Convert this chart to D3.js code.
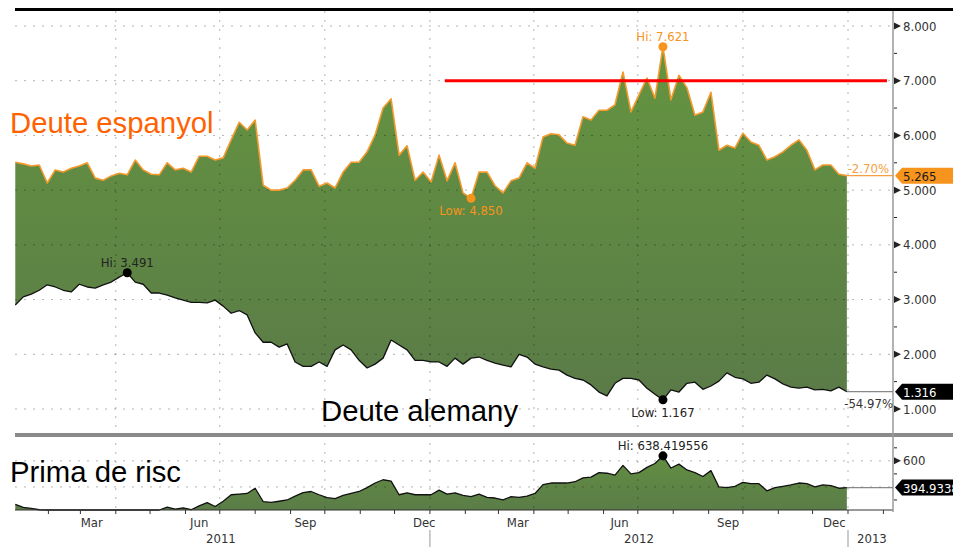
<!DOCTYPE html>
<html><head><meta charset="utf-8">
<script src="https://cdn.jsdelivr.net/npm/d3@7"></script>
<style>body{margin:0;background:#fff}svg{display:block}</style>
</head><body><svg id="c" width="953" height="547"></svg>
<script>
const dates=["2011-01-03","2011-01-10","2011-01-17","2011-01-24","2011-01-31","2011-02-07","2011-02-14","2011-02-21","2011-02-28","2011-03-07","2011-03-14","2011-03-21","2011-03-28","2011-04-04","2011-04-11","2011-04-18","2011-04-25","2011-05-02","2011-05-09","2011-05-16","2011-05-23","2011-05-30","2011-06-06","2011-06-13","2011-06-20","2011-06-27","2011-07-04","2011-07-11","2011-07-18","2011-07-25","2011-08-01","2011-08-08","2011-08-15","2011-08-22","2011-08-29","2011-09-05","2011-09-12","2011-09-19","2011-09-26","2011-10-03","2011-10-10","2011-10-17","2011-10-24","2011-10-31","2011-11-07","2011-11-14","2011-11-21","2011-11-28","2011-12-05","2011-12-12","2011-12-19","2011-12-26","2012-01-02","2012-01-09","2012-01-16","2012-01-23","2012-01-30","2012-02-06","2012-02-13","2012-02-20","2012-02-27","2012-03-05","2012-03-12","2012-03-19","2012-03-26","2012-04-02","2012-04-09","2012-04-16","2012-04-23","2012-04-30","2012-05-07","2012-05-14","2012-05-21","2012-05-28","2012-06-04","2012-06-11","2012-06-18","2012-06-25","2012-07-02","2012-07-09","2012-07-16","2012-07-23","2012-07-30","2012-08-06","2012-08-13","2012-08-20","2012-08-27","2012-09-03","2012-09-10","2012-09-17","2012-09-24","2012-10-01","2012-10-08","2012-10-15","2012-10-22","2012-10-29","2012-11-05","2012-11-12","2012-11-19","2012-11-26","2012-12-03","2012-12-10","2012-12-17","2012-12-24","2012-12-31"];
const spain=[5.51,5.48,5.44,5.46,5.13,5.37,5.33,5.40,5.44,5.50,5.22,5.18,5.26,5.31,5.28,5.55,5.37,5.29,5.28,5.50,5.37,5.40,5.33,5.62,5.62,5.55,5.59,5.92,6.24,6.10,6.28,5.09,5.00,5.00,5.04,5.18,5.37,5.37,5.07,5.13,5.04,5.33,5.51,5.51,5.70,6.01,6.50,6.67,5.64,5.81,5.18,5.33,5.15,5.64,5.17,5.50,4.95,4.85,5.33,5.33,5.08,4.95,5.17,5.22,5.50,5.40,5.97,6.03,6.01,5.86,5.82,6.34,6.28,6.46,6.46,6.56,7.16,6.43,6.74,7.05,6.68,7.621,6.65,7.10,6.87,6.37,6.43,6.79,5.73,5.82,5.77,6.04,5.88,5.82,5.55,5.61,5.70,5.82,5.92,5.73,5.37,5.46,5.46,5.29,5.265];
const germany=[2.90,3.05,3.10,3.17,3.27,3.23,3.17,3.14,3.28,3.23,3.21,3.27,3.32,3.41,3.491,3.32,3.28,3.12,3.12,3.08,3.03,2.99,2.95,2.95,2.94,2.99,2.88,2.75,2.80,2.72,2.39,2.22,2.22,2.13,2.19,1.86,1.78,1.78,1.86,1.78,2.08,2.17,2.08,1.89,1.75,1.82,1.93,2.26,2.17,2.08,1.89,1.89,1.86,1.86,1.78,1.93,1.82,1.93,1.95,1.89,1.84,1.80,1.77,2.00,1.95,1.82,1.77,1.73,1.71,1.62,1.56,1.53,1.44,1.31,1.24,1.47,1.56,1.56,1.53,1.38,1.27,1.167,1.35,1.31,1.47,1.49,1.36,1.42,1.51,1.66,1.58,1.55,1.47,1.49,1.62,1.55,1.46,1.40,1.38,1.40,1.35,1.36,1.33,1.40,1.316];
const spread=[266,243,235,225,215,205,200,205,210,215,200,195,190,185,180,220,205,215,215,245,230,240,225,255,280,250,290,340,345,350,390,288,281,290,300,330,357,365,340,318,310,335,350,365,395,430,455,445,340,355,340,340,340,375,345,355,335,325,345,320,315,300,325,320,330,350,418,430,430,430,440,470,475,510,505,490,565,500,510,550,580,638.419556,545,575,530,510,480,525,400,395,405,435,425,425,370,395,405,415,430,425,400,415,410,390,394.9338];
const upperTicks=[1,2,3,4,5,6,7,8];
const upperMinor=[1.5,2.5,3.5,4.5,5.5,6.5,7.5];
const lowerTicks=[600];
const lowerMinor=[300,500,700];
const lowerGrid=[400,600];
const quarterLines=["2011-04-01","2011-07-01","2011-10-01","2012-01-01","2012-04-01","2012-07-01","2012-10-01","2013-01-01"];
const monthLabelDates=["2011-03-11","2011-06-13","2011-09-14","2011-12-27","2012-03-18","2012-06-15","2012-09-18","2012-12-20"];
const monthLabelText=["Mar","Jun","Sep","Dec","Mar","Jun","Sep","Dec"];
const yearLabelDates=["2011-07-02","2012-07-02"];
const yearLabelText=["2011","2012"];
const changeText=["-2.70%","-54.97%"];
const targetLevel=7;
const targetStart="2012-01-14";

const parse=d3.timeParse("%Y-%m-%d");
const D=dates.map(parse);
const svg=d3.select("#c");
const F="'DejaVu Sans Condensed','DejaVu Sans',sans-serif";
const AX=893, L=15;
const x=d3.scaleTime().domain([new Date(2011,0,1),new Date(2013,0,1)]).range([13,848]);
const yU=d3.scaleLinear().domain([1,8]).range([409,26]);
const yL=d3.scaleLinear().domain([223,760]).range([510,440]).clamp(true);

const defs=svg.append("defs");
const g1=defs.append("linearGradient").attr("id","gU").attr("gradientUnits","userSpaceOnUse").attr("x1",0).attr("x2",0).attr("y1",26).attr("y2",409);
g1.append("stop").attr("offset","0").attr("stop-color","#65963f");
g1.append("stop").attr("offset","1").attr("stop-color","#5a7a48");
const g2=defs.append("linearGradient").attr("id","gL").attr("gradientUnits","userSpaceOnUse").attr("x1",0).attr("x2",0).attr("y1",440).attr("y2",510);
g2.append("stop").attr("offset","0").attr("stop-color","#64943f");
g2.append("stop").attr("offset","1").attr("stop-color","#5b7c48");

svg.append("rect").attr("x",L).attr("y",8).attr("width",953-L).attr("height",3).attr("fill","#000");

const idx=d3.range(D.length);
svg.append("path").datum(idx).attr("fill","url(#gU)")
  .attr("d",d3.area().x(i=>x(D[i])).y0(i=>yU(germany[i])).y1(i=>yU(spain[i])));
svg.append("path").datum(idx).attr("fill","url(#gL)")
  .attr("d",d3.area().x(i=>x(D[i])).y0(510).y1(i=>yL(spread[i])));

const grid=svg.append("g").attr("stroke","rgba(0,0,0,0.3)").attr("stroke-dasharray","2,7").attr("stroke-width",1);
upperTicks.forEach(t=>grid.append("line").attr("x1",L).attr("x2",AX).attr("y1",yU(t)).attr("y2",yU(t)));
lowerGrid.forEach(t=>grid.append("line").attr("x1",L).attr("x2",AX).attr("y1",yL(t)).attr("y2",yL(t)));
quarterLines.map(parse).forEach(d=>grid.append("line").attr("x1",x(d)).attr("x2",x(d)).attr("y1",11).attr("y2",510));

svg.append("path").datum(idx).attr("fill","none").attr("stroke","#f39a2e").attr("stroke-width",1.6).attr("stroke-linejoin","round")
  .attr("d",d3.line().x(i=>x(D[i])).y(i=>yU(spain[i])));
svg.append("path").datum(idx).attr("fill","none").attr("stroke","#111").attr("stroke-width",1.3).attr("stroke-linejoin","round")
  .attr("d",d3.line().x(i=>x(D[i])).y(i=>yU(germany[i])));
svg.append("path").datum(idx).attr("fill","none").attr("stroke","#111").attr("stroke-width",1.3).attr("stroke-linejoin","round")
  .attr("d",d3.line().x(i=>x(D[i])).y(i=>yL(spread[i])));

svg.append("line").attr("x1",x(parse(targetStart))).attr("x2",887).attr("y1",yU(targetLevel)).attr("y2",yU(targetLevel)).attr("stroke","#ff0000").attr("stroke-width",3);

svg.append("rect").attr("x",L).attr("y",433).attr("width",953-L).attr("height",4).attr("fill","#8a8a8a");

svg.append("line").attr("x1",L).attr("x2",AX).attr("y1",510).attr("y2",510).attr("stroke","#333").attr("stroke-width",1);
const months=d3.timeMonth.range(new Date(2011,1,1),new Date(2013,2,1));
months.forEach(m=>{ if(x(m)<AX) svg.append("line").attr("x1",x(m)).attr("x2",x(m)).attr("y1",510).attr("y2",514).attr("stroke","#333");});
monthLabelDates.forEach((d,i)=>svg.append("text").attr("x",x(parse(d))).attr("y",527).attr("text-anchor","middle")
  .attr("font-family",F).attr("font-size",13).attr("fill","#333").text(monthLabelText[i]));
yearLabelDates.forEach((d,i)=>svg.append("text").attr("x",x(parse(d))).attr("y",543).attr("text-anchor","middle")
  .attr("font-family",F).attr("font-size",13).attr("fill","#333").text(yearLabelText[i]));
[new Date(2012,0,1),new Date(2013,0,1)].forEach(d=>svg.append("line").attr("x1",x(d)).attr("x2",x(d)).attr("y1",530).attr("y2",547).attr("stroke","#999"));
svg.append("text").attr("x",x(new Date(2013,0,1))+9).attr("y",543).attr("font-family",F).attr("font-size",13).attr("fill","#333").text("2013");

svg.append("line").attr("x1",AX).attr("x2",AX).attr("y1",11).attr("y2",512).attr("stroke","#9a9a9a").attr("stroke-width",1.5);
const tri=y=>`M${AX+1},${y-3.5}L${AX+8},${y}L${AX+1},${y+3.5}Z`;
upperTicks.forEach(t=>{
  svg.append("path").attr("d",tri(yU(t))).attr("fill","#222");
  svg.append("text").attr("x",AX+10).attr("y",yU(t)+4.5).attr("font-family",F).attr("font-size",13).attr("fill","#333").text(d3.format(".3f")(t));
});
upperMinor.forEach(t=>svg.append("line").attr("x1",AX+1).attr("x2",AX+4).attr("y1",yU(t)).attr("y2",yU(t)).attr("stroke","#222"));
lowerTicks.forEach(t=>{
  svg.append("path").attr("d",tri(yL(t))).attr("fill","#222");
  svg.append("text").attr("x",AX+10).attr("y",yL(t)+4.5).attr("font-family",F).attr("font-size",13).attr("fill","#333").text(t);
});
lowerMinor.forEach(t=>svg.append("line").attr("x1",AX+1).attr("x2",AX+4).attr("y1",yL(t)).attr("y2",yL(t)).attr("stroke","#222"));

const n=D.length-1, xe=x(D[n]);
svg.append("line").attr("x1",xe).attr("x2",AX).attr("y1",yU(spain[n])).attr("y2",yU(spain[n])).attr("stroke","#f5a040").attr("stroke-width",1.3);
svg.append("text").attr("x",AX-4).attr("y",yU(spain[n])-3).attr("text-anchor","end").attr("font-family",F).attr("font-size",13).attr("fill","#f5a040").text(changeText[0]);
svg.append("line").attr("x1",xe).attr("x2",AX).attr("y1",yU(germany[n])).attr("y2",yU(germany[n])).attr("stroke","#888").attr("stroke-width",1.3);
svg.append("text").attr("x",AX).attr("y",yU(germany[n])+16).attr("text-anchor","end").attr("font-family",F).attr("font-size",13).attr("fill","#333").text(changeText[1]);
svg.append("line").attr("x1",xe).attr("x2",AX).attr("y1",yL(spread[n])).attr("y2",yL(spread[n])).attr("stroke","#888").attr("stroke-width",1.3);
const box=(y,fill,tc,label)=>{
  svg.append("path").attr("d",`M${AX+2},${y}L${AX+9},${y-8}L953,${y-8}L953,${y+8}L${AX+9},${y+8}Z`).attr("fill",fill);
  svg.append("text").attr("x",AX+10).attr("y",y+5).attr("font-family",F).attr("font-size",13).attr("fill",tc).text(label);
};
box(yU(spain[n]),"#f7941d","#1a1a1a",String(spain[n]));
box(yU(germany[n]),"#000","#fff",String(germany[n]));
box(yL(spread[n]),"#000","#fff",String(spread[n]));

const mark=(arr,ys,i,col,label,above)=>{
  const cx=x(D[i]), cy=ys(arr[i]);
  svg.append("circle").attr("cx",cx).attr("cy",cy).attr("r",4.5).attr("fill",col);
  svg.append("text").attr("x",cx).attr("y",above?cy-6:cy+17).attr("text-anchor","middle")
    .attr("font-family",F).attr("font-size",13).attr("fill",col==="#000"?"#222":col).text(label);
};
const iSmax=d3.maxIndex(spain), iSmin=d3.minIndex(spain), iGmax=d3.maxIndex(germany), iGmin=d3.minIndex(germany), iPmax=d3.maxIndex(spread);
mark(spain,yU,iSmax,"#f7941d","Hi: "+d3.format(".3f")(spain[iSmax]),true);
mark(spain,yU,iSmin,"#f7941d","Low: "+d3.format(".3f")(spain[iSmin]),false);
mark(germany,yU,iGmax,"#000","Hi: "+d3.format(".3f")(germany[iGmax]),true);
mark(germany,yU,iGmin,"#000","Low: "+d3.format(".3f")(germany[iGmin]),false);
mark(spread,yL,iPmax,"#000","Hi: "+spread[iPmax],true);

const A="'Liberation Sans',Arial,sans-serif";
svg.append("text").attr("x",10).attr("y",133).attr("font-family",A).attr("font-size",29.3).attr("fill","#ff6200").text("Deute espanyol");
svg.append("text").attr("x",321).attr("y",421).attr("font-family",A).attr("font-size",29.3).attr("fill","#000").text("Deute alemany");
svg.append("text").attr("x",10).attr("y",482).attr("font-family",A).attr("font-size",29.3).attr("fill","#000").text("Prima de risc");
</script></body></html>
